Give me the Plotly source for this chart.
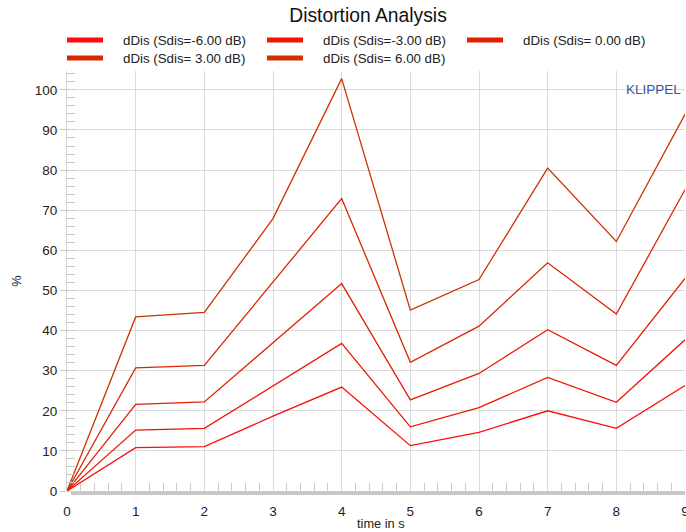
import plotly.graph_objects as go

time_s = [0, 1, 2, 3, 4, 5, 6, 7, 8, 9]
labels = ["dDis (Sdis=-6.00 dB)", "dDis (Sdis=-3.00 dB)", "dDis (Sdis= 0.00 dB)",
          "dDis (Sdis= 3.00 dB)", "dDis (Sdis= 6.00 dB)"]
s_m6 = [0, 10.8, 11.05, 18.65, 25.9, 11.3, 14.6, 20.0, 15.6, 26.3]
s_m3 = [0, 15.2, 15.6, 26.2, 36.8, 16.0, 20.8, 28.3, 22.1, 37.7]
s_0 = [0, 21.6, 22.2, 36.9, 51.7, 22.7, 29.3, 40.2, 31.3, 53.0]
s_p3 = [0, 30.7, 31.3, 52.1, 72.9, 32.1, 41.1, 56.9, 44.1, 75.1]
s_p6 = [0, 43.4, 44.5, 67.9, 102.8, 45.1, 52.7, 80.5, 62.2, 93.9]
series = [s_m6, s_m3, s_0, s_p3, s_p6]
colors = ["#FF0A0A", "#F01400", "#E41E00", "#D82800", "#CC3300"]

W, H = 686, 532
L, R, T, B = 67, 1, 71, 41
pw, ph = W - L - R, H - T - B

fig = go.Figure()
for lab, ys, c in zip(labels, series, colors):
    fig.add_trace(go.Scatter(x=time_s, y=ys, mode="lines", name=lab,
                             line=dict(color=c, width=1.3), showlegend=False))

font = "Liberation Sans, Arial, sans-serif"

def px2paper(x, y):
    return (x - L) / pw, (H - B - y) / ph

shapes = []
annotations = []
legend_pos = [(67, 40), (267, 40), (467, 40), (67, 58), (267, 58)]
for (lx, ly), lab, c in zip(legend_pos, labels, colors):
    x0, y0 = px2paper(lx, ly)
    x1, _ = px2paper(lx + 36, ly)
    shapes.append(dict(type="line", xref="paper", yref="paper", x0=x0, x1=x1,
                       y0=y0, y1=y0, line=dict(color=c, width=5)))
    tx, _ = px2paper(lx + 54, ly)
    annotations.append(dict(xref="paper", yref="paper", x=tx, y=y0, text=lab,
                            showarrow=False, xanchor="left", yanchor="middle",
                            font=dict(family=font, size=13.3, color="#222")))

kx, ky = px2paper(683, 90)
annotations.append(dict(xref="paper", yref="paper", x=kx, y=ky, text="KLIPPEL",
                        showarrow=False, xanchor="right", yanchor="middle",
                        font=dict(family=font, size=13.5, color="#3A55A0")))

# x axis title
xtx, xty = px2paper(381, 523.5)
annotations.append(dict(xref="paper", yref="paper", x=xtx, y=xty, text="time in s",
                        showarrow=False, xanchor="center", yanchor="middle",
                        font=dict(family=font, size=12.8, color="#222")))

# thick grey base bar under x axis
bx0, by = px2paper(71, 493)
shapes.append(dict(type="line", xref="paper", yref="paper", x0=bx0, x1=1,
                   y0=by, y1=by, line=dict(color="#C8C8C8", width=4), layer="below"))

fig.update_layout(
    width=W, height=H,
    margin=dict(l=L, r=R, t=T, b=B),
    paper_bgcolor="white", plot_bgcolor="white",
    title=dict(text="Distortion Analysis", x=0.5365, xanchor="center", y=0.971, yanchor="middle",
               font=dict(family=font, size=19.3, color="#111")),
    font=dict(family=font, size=13, color="#222"),
    shapes=shapes, annotations=annotations,
    xaxis=dict(range=[0, 9], tickmode="linear", tick0=0, dtick=1,
               showgrid=True, gridcolor="#DADADA", gridwidth=1.2,
               zeroline=False, showline=False, ticks="",
               ticklabelstandoff=10, ticklabeloverflow="allow", automargin=False,
               tickfont=dict(family=font, size=13.5, color="#222"),
               minor=dict(ticks="inside", dtick=0.2, tick0=0, ticklen=8,
                          tickcolor="#C8C8C8", tickwidth=1, showgrid=False)),
    yaxis=dict(range=[0, 104.7], tickmode="linear", tick0=0, dtick=10,
               showgrid=True, gridcolor="#DADADA", gridwidth=1.2,
               zeroline=False, showline=True, linecolor="#D0D0D0", linewidth=1,
               ticks="outside", ticklen=6, tickcolor="#C8C8C8", automargin=False,
               tickfont=dict(family=font, size=13.5, color="#222"),
               title=dict(text="%", standoff=10,
                          font=dict(family=font, size=12.8, color="#222")),
               minor=dict(ticks="inside", dtick=2, tick0=0, ticklen=8,
                          tickcolor="#C8C8C8", tickwidth=1, showgrid=False)),
)

fig.write_html("out.html", config={"displayModeBar": False},
               post_script="document.body.style.margin='0px';"
                           "document.body.style.overflow='hidden';")
